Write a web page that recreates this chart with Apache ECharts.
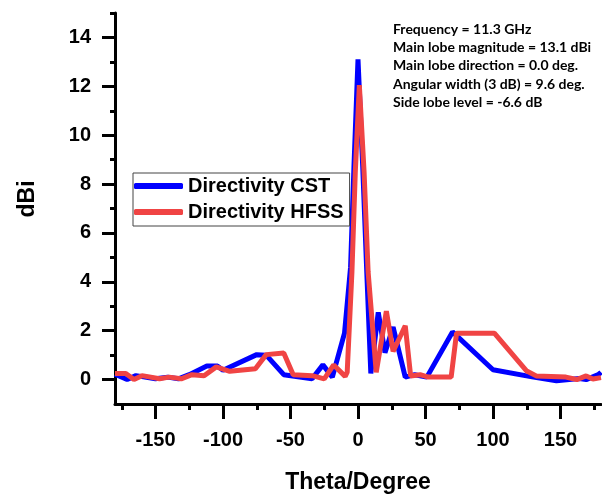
<!DOCTYPE html>
<html>
<head>
<meta charset="utf-8">
<script src="https://cdn.jsdelivr.net/npm/echarts@6/dist/echarts.min.js"></script>
<style>
html,body{margin:0;padding:0;background:#fff;}
#chart{width:602px;height:496px;}
</style>
</head>
<body>
<div id="chart"></div>
<script>
// ---- data ----
var cstTheta = [-180,-171,-164.5,-150,-141,-133,-125,-112,-104,-100,-75,-68,-55,-34,-26,-19,-10,-5.5,-3,0,3.5,6.5,9.5,15,20,26,35,42,51,70,100,130,147,164,169,178,180];
var cstDbi   = [0.22,0.0,0.16,0.03,0.10,0.03,0.20,0.55,0.55,0.38,1.02,1.0,0.2,0.03,0.6,0.1,1.9,4.6,8.7,13.1,8.7,4.4,0.25,2.75,1.1,2.15,0.1,0.2,0.1,1.95,0.4,0.1,-0.05,0.04,0.0,0.2,0.3];
var hfssTheta = [-180,-172,-166,-160,-147,-140,-131,-123,-114,-105,-95,-76,-68,-55,-48,-34,-25,-18,-9.5,-8,-4.5,-2,1,4.5,7.5,13.5,21,26,35,39,46,52,69,73,101,125,132,154,162,169,174,180];
var hfssDbi   = [0.25,0.25,0.0,0.16,0.03,0.1,0.03,0.2,0.16,0.52,0.34,0.44,1.02,1.09,0.2,0.16,0.03,0.6,0.13,0.3,4.4,8.5,12.05,8.5,4.4,0.3,2.8,1.15,2.2,0.15,0.2,0.1,0.1,1.9,1.9,0.35,0.15,0.1,0.0,0.15,0.02,0.08];
var seriesNames = ['Directivity CST','Directivity HFSS'];
var xMajorTicks = [-150,-100,-50,0,50,100,150];
var xMinorTicks = [-175,-125,-75,-25,25,75,125,175];
var yMajorTicks = [0,2,4,6,8,10,12,14];
var yMinorTicks = [1,3,5,7,9,11,13,15];
var annotationLines = [
  'Frequency = 11.3 GHz',
  'Main lobe magnitude = 13.1 dBi',
  'Main lobe direction = 0.0 deg.',
  'Angular width (3 dB) = 9.6 deg.',
  'Side lobe level = -6.6 dB'
];
var xTitle = 'Theta/Degree';
var yTitle = 'dBi';

function pairs(xs, ys){ return xs.map(function(x,i){ return [x, ys[i]]; }); }

var gridBox = {left:115, right:1, top:13, bottom:92, containLabel:false, outerBoundsMode:'none'};
var labelFont = {fontFamily:'Liberation Sans, Arial, sans-serif', fontWeight:'bold', fontSize:20, color:'#000'};

var chart = echarts.init(document.getElementById('chart'), null, {renderer:'canvas'});
chart.setOption({
  backgroundColor:'#fff',
  animation:false,
  grid:[
    Object.assign({}, gridBox),
    Object.assign({}, gridBox)
  ],
  xAxis:[{
    type:'value', gridIndex:0, min:-180, max:180,
    name:xTitle, nameLocation:'middle', nameGap:67,
    nameTextStyle:{fontFamily:'Liberation Sans, Arial, sans-serif', fontWeight:'bold', fontSize:23, color:'#000'},
    axisLine:{show:true, onZero:false, lineStyle:{color:'#000', width:3}},
    axisTick:{show:true, customValues:xMajorTicks, length:15, lineStyle:{color:'#000', width:3}},
    axisLabel:Object.assign({customValues:xMajorTicks, margin:26}, labelFont),
    splitLine:{show:false}
  },{
    type:'value', gridIndex:1, min:-180, max:180, position:'bottom',
    axisLine:{show:false, onZero:false},
    axisTick:{show:true, customValues:xMinorTicks, length:6, lineStyle:{color:'#000', width:3}},
    axisLabel:{show:false},
    splitLine:{show:false}
  }],
  yAxis:[{
    type:'value', gridIndex:0, min:-1, max:15,
    axisLine:{show:true, onZero:false, lineStyle:{color:'#000', width:3}},
    axisTick:{show:true, customValues:yMajorTicks, length:13, lineStyle:{color:'#000', width:3}},
    axisLabel:Object.assign({customValues:yMajorTicks, margin:24}, labelFont),
    splitLine:{show:false}
  },{
    type:'value', gridIndex:1, min:-1, max:15, position:'left',
    axisLine:{show:false, onZero:false},
    axisTick:{show:true, customValues:yMinorTicks, length:5, lineStyle:{color:'#000', width:3}},
    axisLabel:{show:false},
    splitLine:{show:false}
  }],
  legend:{
    show:true, orient:'vertical', left:133, top:173,
    data:seriesNames,
    backgroundColor:'#fff', borderColor:'#444', borderWidth:1,
    padding:[3,6,4,1], itemGap:6,
    itemWidth:49, itemHeight:6, icon:'roundRect',
    textStyle:{fontFamily:'Liberation Sans, Arial, sans-serif', fontWeight:'bold', fontSize:20, color:'#000'}
  },
  graphic:[{
    type:'text', left:393, top:20,
    style:{text:annotationLines.join('\n'), font:'bold 14px Lato', lineHeight:18.3, fill:'#000'}
  },{
    type:'text', x:16, y:199, rotation:Math.PI/2,
    style:{text:yTitle, font:'bold 23px "Liberation Sans", Arial', fill:'#000', align:'center', verticalAlign:'top'}
  }],
  series:[{
    name:seriesNames[0], type:'line', xAxisIndex:0, yAxisIndex:0,
    data:pairs(cstTheta, cstDbi), showSymbol:false, symbol:'none',
    lineStyle:{color:'#0000ff', width:5}, itemStyle:{color:'#0000ff'}, z:2
  },{
    name:seriesNames[1], type:'line', xAxisIndex:0, yAxisIndex:0,
    data:pairs(hfssTheta, hfssDbi), showSymbol:false, symbol:'none',
    lineStyle:{color:'#f04444', width:5}, itemStyle:{color:'#f04444'}, z:3
  }]
});
</script>
</body>
</html>
